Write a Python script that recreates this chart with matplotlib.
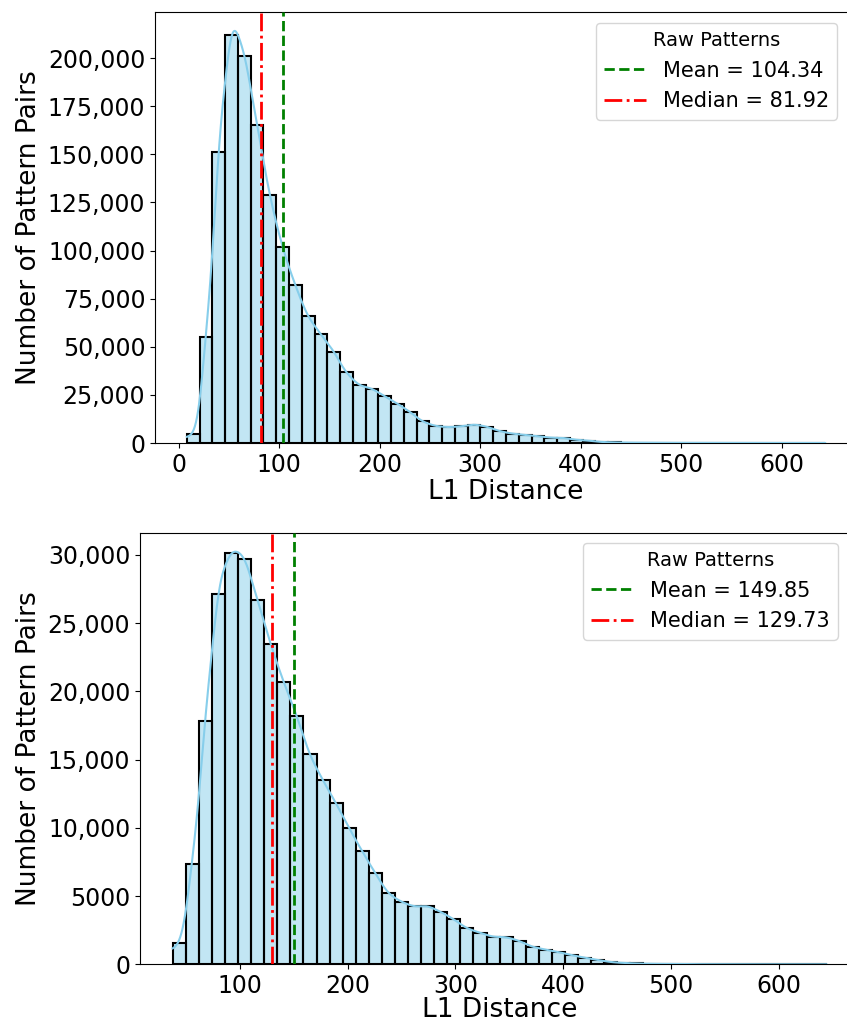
import numpy as np
import matplotlib
matplotlib.use("Agg")
import matplotlib.pyplot as plt
from matplotlib.ticker import FuncFormatter, MultipleLocator

# ---------------- data ----------------
top_start = 8.3
top_width = 12.7
top_counts = [4850, 55100, 151300, 212100, 201200, 165300, 128900, 101900, 82000, 66000,
              56500, 47500, 36700, 30300, 28100, 24300, 20400, 16000, 11200, 8900,
              8300, 8700, 9500, 8400, 6200, 4900, 4200, 3600, 2800, 2600,
              1700, 1200, 550, 300, 200, 150, 110, 90, 70, 60,
              50, 40, 30, 25, 20, 15, 12, 10, 8, 5]
top_mean = 104.34
top_median = 81.92

bot_start = 37.7
bot_width = 12.13
bot_counts = [1560, 7380, 17800, 27100, 30100, 29700, 26700, 23500, 20700, 18200,
              15400, 13500, 11800, 10000, 8300, 6700, 5250, 4600, 4250, 4250,
              3840, 3300, 2660, 2320, 2030, 1980, 1710, 1300, 1080, 900,
              680, 490, 320, 170, 100, 60, 40, 30, 20, 15,
              10, 8, 6, 5, 4, 3, 2, 2, 1, 1]
bot_mean = 149.85
bot_median = 129.73

legend_title = "Raw Patterns"
xlabel = "L1 Distance"
ylabel = "Number of Pattern Pairs"


def smooth_curve(edges, counts, npts=1200, smooth=4.5):
    """Histogram-preserving smooth density (derivative of PCHIP through the CDF)."""
    x = np.asarray(edges, float)
    y = np.concatenate([[0.0], np.cumsum(counts)])
    h = np.diff(x)
    delta = np.diff(y) / h
    n = len(x)
    d = np.zeros(n)
    for k in range(1, n - 1):
        if delta[k - 1] * delta[k] <= 0:
            d[k] = 0.0
        else:
            w1 = 2 * h[k] + h[k - 1]
            w2 = h[k] + 2 * h[k - 1]
            d[k] = (w1 + w2) / (w1 / delta[k - 1] + w2 / delta[k])
    d[0] = max(0.0, (3 * delta[0] - d[1]) / 2)
    d[-1] = max(0.0, (3 * delta[-1] - d[-2]) / 2)
    xs = np.linspace(x[0], x[-1], npts)
    idx = np.clip(np.searchsorted(x, xs, side="right") - 1, 0, n - 2)
    t = (xs - x[idx]) / h[idx]
    hh = h[idx]
    dens = ((6 * t**2 - 6 * t) * y[idx] + (3 * t**2 - 4 * t + 1) * hh * d[idx]
            + (-6 * t**2 + 6 * t) * y[idx + 1] + (3 * t**2 - 2 * t) * hh * d[idx + 1]) / hh
    dens = np.clip(dens, 0, None)
    if smooth > 0:
        dx = xs[1] - xs[0]
        kx = np.arange(-4 * smooth, 4 * smooth + dx, dx)
        ker = np.exp(-0.5 * (kx / smooth) ** 2)
        ker /= ker.sum()
        pad = len(kx) // 2
        padded = np.concatenate([np.full(pad, dens[0]), dens, np.full(pad, dens[-1])])
        dens = np.convolve(padded, ker, mode="same")[pad:pad + len(dens)]
    return xs, dens * (x[1] - x[0])


def yfmt(v, pos):
    v = int(round(v))
    if abs(v) >= 10000:
        return f"{v:,}"
    return f"{v}"


W, H = 847, 1023
fig = plt.figure(figsize=(W / 100, H / 100), dpi=100)


def px_axes(left, top, right, bottom):
    return fig.add_axes([left / W, 1 - bottom / H, (right - left) / W, (bottom - top) / H])


ax1 = px_axes(155, 12, 857, 443)
ax2 = px_axes(140, 533, 859, 964.3)

panels = [
    (ax1, top_start, top_width, top_counts, top_mean, top_median, 25000, (-23.4, 675), 223900, (596, 23), 1.5),
    (ax2, bot_start, bot_width, bot_counts, bot_mean, bot_median, 5000, (7.4, 674.3), 31600, (583, 543), -1.0),
]

for ax, start, width, counts, mean, median, ystep, xlim, ytop, legpos, lpad in panels:
    edges = start + width * np.arange(len(counts) + 1)
    ax.bar(edges[:-1], counts, width=width, align="edge",
           color="skyblue", alpha=0.5, edgecolor="none", zorder=2)
    ax.bar(edges[:-1], counts, width=width, align="edge",
           facecolor="none", edgecolor="black", linewidth=1.5, zorder=3)
    xs, ys = smooth_curve(edges, counts)
    ax.plot(xs, ys, color="skyblue", linewidth=1.5, zorder=4)
    ax.axvline(mean, color="green", linestyle="--", linewidth=2,
               label=f"Mean = {mean:.2f}", zorder=5)
    ax.axvline(median, color="red", linestyle="-.", linewidth=2,
               label=f"Median = {median:.2f}", zorder=5)
    ax.set_xlim(*xlim)
    ax.set_ylim(0, ytop)
    ax.xaxis.set_major_locator(MultipleLocator(100))
    ax.yaxis.set_major_locator(MultipleLocator(ystep))
    ax.yaxis.set_major_formatter(FuncFormatter(yfmt))
    ax.tick_params(labelsize=17)
    ax.set_xlabel(xlabel, fontsize=19, labelpad=lpad)
    ax.set_ylabel(ylabel, fontsize=19)
    leg = ax.legend(title=legend_title, fontsize=15, title_fontsize=14,
                    loc="upper left", bbox_to_anchor=(legpos[0] / W, 1 - legpos[1] / H),
                    bbox_transform=fig.transFigure, borderaxespad=0)

fig.savefig("out.png", dpi=100)
